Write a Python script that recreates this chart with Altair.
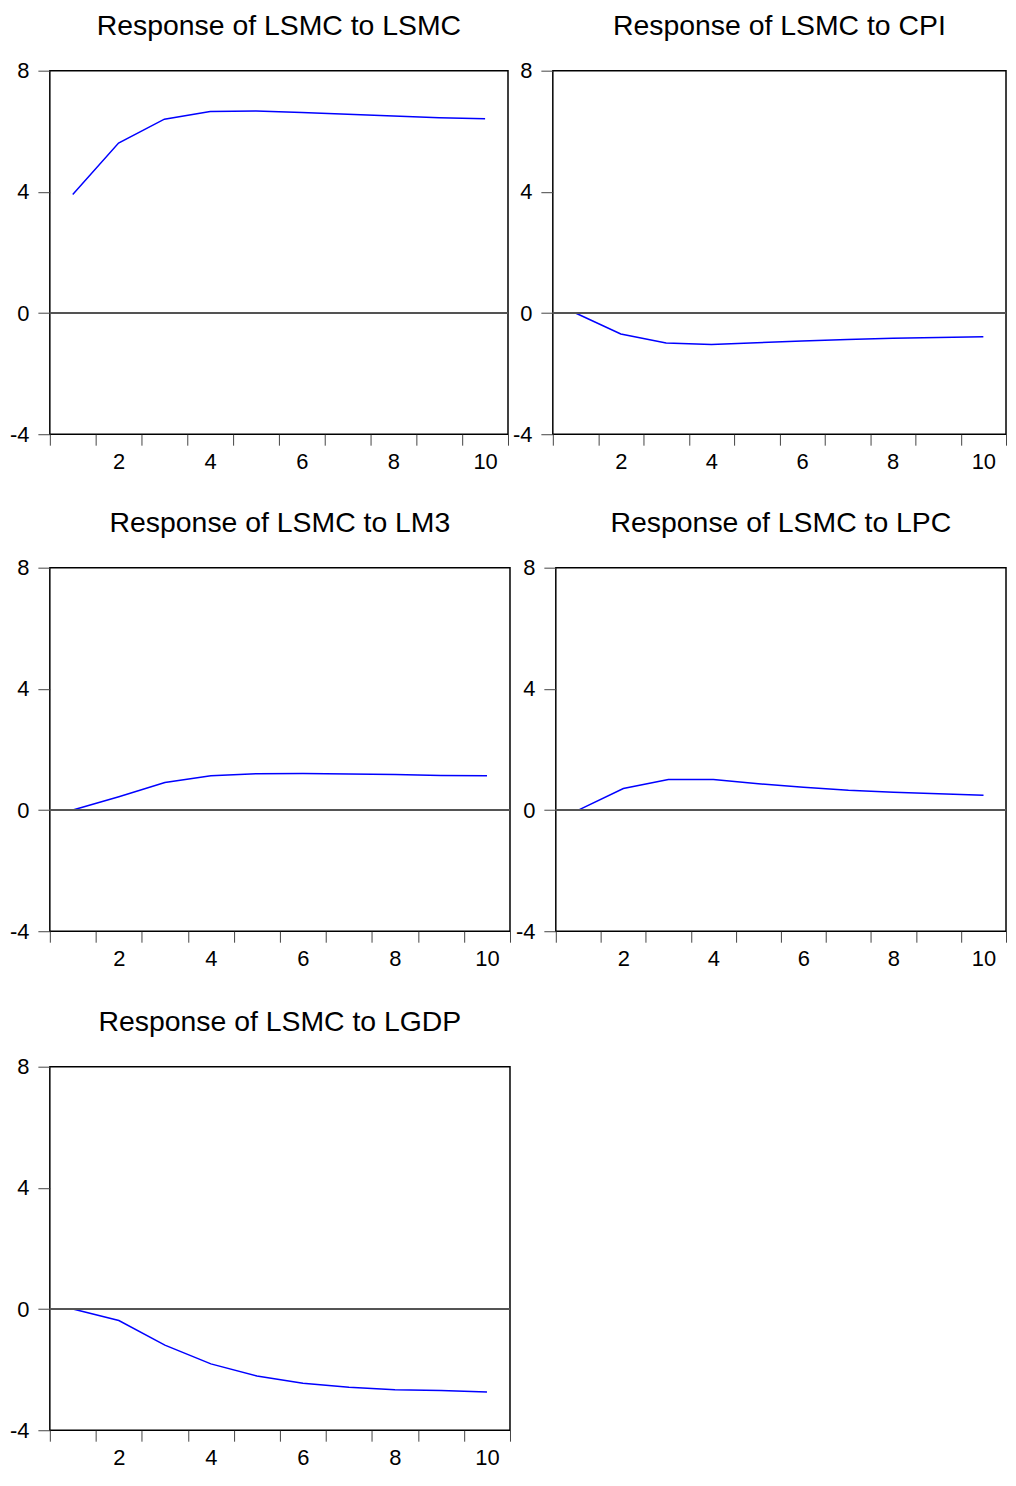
import altair as alt
import pandas as pd

# ---- data ----
periods = list(range(1, 11))
titles = [
    "Response of LSMC to LSMC",
    "Response of LSMC to CPI",
    "Response of LSMC to LM3",
    "Response of LSMC to LPC",
    "Response of LSMC to LGDP",
]
resp_lsmc = [3.91, 5.61, 6.40, 6.65, 6.67, 6.62, 6.56, 6.50, 6.45, 6.41]
resp_cpi = [0.0, -0.69, -0.99, -1.04, -0.98, -0.92, -0.87, -0.83, -0.81, -0.78]
resp_lm3 = [0.0, 0.44, 0.91, 1.13, 1.20, 1.21, 1.19, 1.17, 1.14, 1.13]
resp_lpc = [0.0, 0.71, 1.01, 1.01, 0.87, 0.75, 0.65, 0.59, 0.54, 0.49]
resp_lgdp = [0.0, -0.38, -1.19, -1.81, -2.21, -2.45, -2.58, -2.66, -2.69, -2.74]
y_ticks = [-4, 0, 4, 8]
x_ticks = [0.5 + i for i in range(11)]

FONT = "Liberation Sans"


def panel(title, values, width, height):
    df = pd.DataFrame({"period": periods, "response": values})
    xscale = alt.Scale(domain=[0.5, 10.5], nice=False, zero=False)
    yscale = alt.Scale(domain=[-4, 8], nice=False, zero=False)
    x = alt.X(
        "period:Q",
        scale=xscale,
        axis=alt.Axis(
            values=x_ticks,
            # labels sit between ticks: label of tick k+0.5 is shifted back half a step
            labelExpr="(datum.value % 2 == 0.5 && datum.value > 1) ? '' + (datum.value - 0.5) : ''",
            labelOffset=-width / 20.0,
            tickSize=11,
            labelPadding=6,
            grid=False,
            domain=False,
            title=None,
            labelFlush=False,
            labelOverlap=False,
        ),
    )
    y = alt.Y(
        "response:Q",
        scale=yscale,
        axis=alt.Axis(
            values=y_ticks,
            labelExpr="datum.value < 0 ? '-' + (-datum.value) : '' + datum.value",
            tickSize=12,
            labelPadding=9,
            grid=False,
            domain=False,
            title=None,
            labelFlush=False,
            labelOverlap=False,
        ),
    )
    base = alt.Chart(df)
    zero = base.mark_rule(color="#555555", strokeWidth=1).encode(y=alt.datum(0))
    line = base.mark_line(color="#0000FF", strokeWidth=1.5).encode(x=x, y=y)
    return alt.layer(line, zero).properties(
        title=title, width=width, height=height
    )


p1 = panel(titles[0], resp_lsmc, 460, 365)
p2 = panel(titles[1], resp_cpi, 455, 365)
p3 = panel(titles[2], resp_lm3, 462, 365)
p4 = panel(titles[3], resp_lpc, 452, 365)
p5 = panel(titles[4], resp_lgdp, 462, 365)

row1 = alt.hconcat(p1, p2, spacing=1)
row2 = alt.hconcat(p3, p4, spacing=2)
top = alt.vconcat(row1, row2, spacing=35)
chart = (
    alt.vconcat(top, p5, spacing=37)
    .properties(padding={"left": 0, "top": 0, "right": 0, "bottom": 0})
    .configure_view(stroke="black", strokeWidth=1.5)
    .configure_axis(
        labelFont=FONT,
        labelFontSize=22,
        labelColor="black",
        tickColor="#444444",
        tickWidth=1,
    )
    .configure_title(
        font=FONT,
        fontSize=28.5,
        fontWeight="normal",
        color="black",
        anchor="middle",
        offset=19,
    )
)

chart.save("out.html", embed_options={"renderer": "svg", "actions": False})
